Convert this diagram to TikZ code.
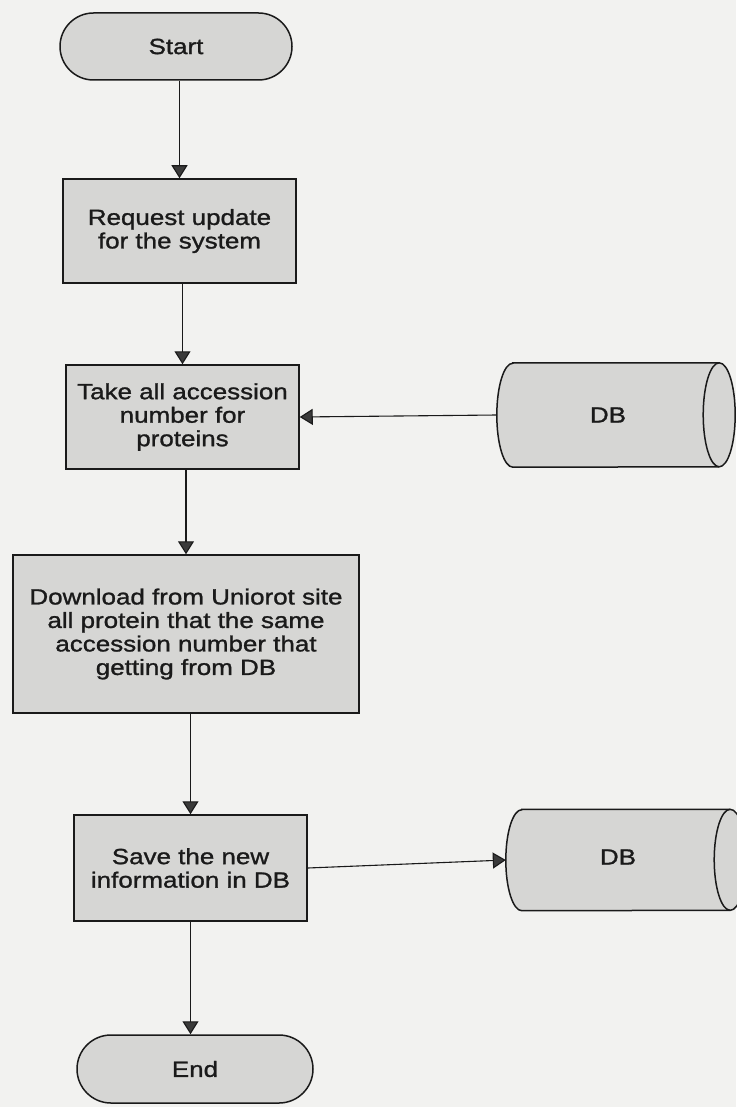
\documentclass[tikz,border=0pt]{standalone}
\usepackage{fontspec}
\setmainfont{Liberation Sans}[FakeStretch=1.18, FakeBold=1.2]
\usetikzlibrary{shapes.misc,arrows.meta,calc}

\definecolor{paper}{HTML}{F2F2F0}
\definecolor{boxfill}{HTML}{D6D6D4}
\definecolor{ink}{HTML}{1A1A1A}
\definecolor{tipgray}{HTML}{3A3A3A}

\tikzset{
  base/.style={draw=ink, line width=1.5pt, fill=boxfill, text=ink,
    font=\fontsize{22}{23.5}\selectfont, align=center, inner sep=0pt},
  terminal/.style={base, rounded rectangle, rounded rectangle arc length=180},
  process/.style={base, rectangle},
  store/.style={rectangle, inner sep=0pt, text=ink,
    font=\fontsize{22}{23.5}\selectfont},
  flow/.style={draw=ink, line width=1.1pt,
    -{Triangle[width=16pt,length=13pt,fill=tipgray]}},
  dbbody/.style={draw=ink, line width=1.5pt, fill=boxfill},
}

% horizontal database cylinder drawn around a named node
% #1 node name, #2 end radius in x, #3 end radius in y (half the height)
\newcommand{\drawdb}[3]{%
  \path[dbbody] ($(#1.north west)+(#2,0)$) -- (#1.north east)
    arc[start angle=90, end angle=-90, x radius=#2pt, y radius=#3pt]
    -- ($(#1.south west)+(#2,0)$)
    arc[start angle=270, end angle=90, x radius=#2pt, y radius=#3pt]
    -- cycle;
  \draw[ink, line width=1.5pt] (#1.north east)
    arc[start angle=90, end angle=270, x radius=#2pt, y radius=#3pt];
}

\begin{document}
\begin{tikzpicture}[x=1pt, y=-1pt]
  \useasboundingbox (0,0) rectangle (736,1107);
  \fill[paper] (0,0) rectangle (736,1107);

  % flow steps
  \node[terminal, minimum width=232pt, minimum height=67pt] (start) at (176,46.5) {Start};
  \node[process, minimum width=233pt, minimum height=104pt] (req) at (179.5,231)
    {Request update\\for the system};
  \node[process, minimum width=233pt, minimum height=104pt] (take) at (182.5,417)
    {Take all accession\\number for\\proteins};
  \node[process, minimum width=346pt, minimum height=158pt] (dl) at (186,634)
    {Download from Uniorot site\\all protein that the same\\accession number that\\getting from DB};
  \node[process, minimum width=233pt, minimum height=106pt] (save) at (190.5,868)
    {Save the new\\information in DB};
  \node[terminal, minimum width=236pt, minimum height=68pt] (end) at (195,1069) {End};

  % databases
  \node[store, minimum width=222pt, minimum height=104pt] (db1) at (608,415) {};
  \node[store, minimum width=224pt, minimum height=101pt] (db2) at (618,860) {};
  \drawdb{db1}{16}{52}
  \drawdb{db2}{16}{50.5}
  \node[store] at (db1.center) {DB};
  \node[store] at ([yshift=3pt]db2.center) {DB};

  % connectors
  \draw[flow] (req.north |- start.south) -- (req.north);
  \draw[flow] (take.north |- req.south) -- (take.north);
  \draw[flow] (db1.west) -- (take.east);
  \draw[flow] (dl.north |- take.south) -- (dl.north);
  \draw[flow] (save.north |- dl.south) -- (save.north);
  \draw[flow] (save.east) -- (db2.west);
  \draw[flow] (save.south) -- (save.south |- end.north);
\end{tikzpicture}
\end{document}
